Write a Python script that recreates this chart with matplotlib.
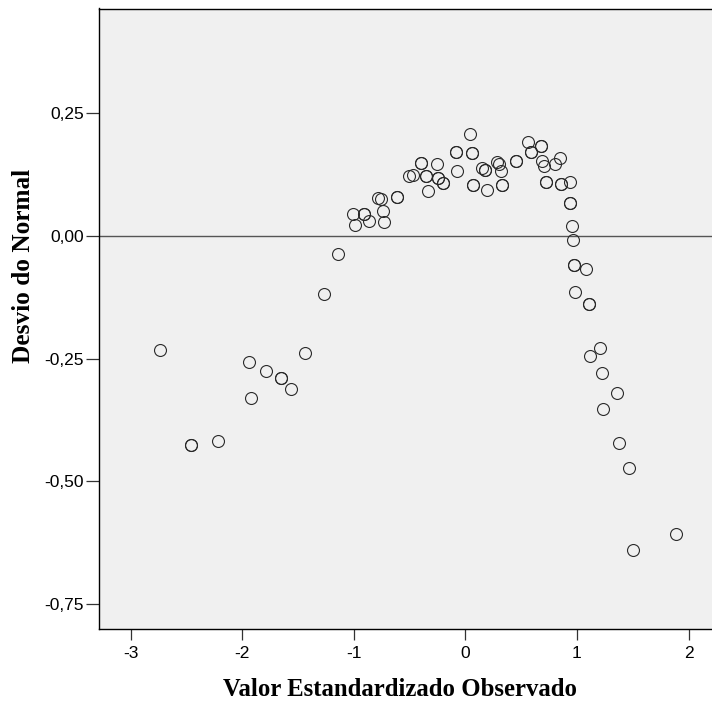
import matplotlib
matplotlib.use("Agg")
import matplotlib.pyplot as plt
from matplotlib.ticker import FixedLocator, FuncFormatter

# detrended normal Q-Q values (repeated points listed twice)
obs_left = [-2.736, -2.461, -2.461, -2.219, -1.941, -1.920, -1.786, -1.654, -1.654,
            -1.565, -1.434, -1.266, -1.138]
dev_left = [-0.233, -0.427, -0.427, -0.418, -0.257, -0.330, -0.276, -0.289, -0.289,
            -0.313, -0.239, -0.119, -0.038]

obs_mid = [-1.009, -0.991, -0.908, -0.908, -0.866, -0.785, -0.755, -0.737, -0.728,
           -0.612, -0.612, -0.507, -0.471, -0.394, -0.394, -0.349, -0.349, -0.337,
           -0.254, -0.245, -0.245, -0.197, -0.197, -0.083, -0.083, -0.072, 0.042,
           0.057, 0.057, 0.066, 0.066, 0.147, 0.177, 0.177, 0.192, 0.281, 0.305,
           0.323, 0.332, 0.332, 0.454, 0.454, 0.562, 0.589, 0.589, 0.678, 0.678,
           0.687, 0.708, 0.804, 0.849, 0.720, 0.720, 0.858, 0.858, 0.935, 0.938,
           0.938, 0.953, 0.962]
dev_mid = [0.044, 0.022, 0.045, 0.045, 0.031, 0.077, 0.075, 0.051, 0.028,
           0.078, 0.078, 0.121, 0.124, 0.148, 0.148, 0.121, 0.121, 0.091,
           0.146, 0.117, 0.117, 0.107, 0.107, 0.171, 0.171, 0.131, 0.208,
           0.169, 0.169, 0.104, 0.104, 0.138, 0.133, 0.133, 0.093, 0.151, 0.147,
           0.131, 0.104, 0.104, 0.152, 0.152, 0.191, 0.170, 0.170, 0.183, 0.183,
           0.152, 0.143, 0.146, 0.159, 0.110, 0.110, 0.105, 0.105, 0.109, 0.066,
           0.066, 0.020, -0.008]

obs_right = [0.971, 0.971, 1.079, 0.983, 1.108, 1.108, 1.204, 1.120, 1.225, 1.362,
             1.237, 1.375, 1.467, 1.891, 1.500]
dev_right = [-0.060, -0.060, -0.068, -0.115, -0.138, -0.138, -0.229, -0.245, -0.280,
             -0.321, -0.352, -0.423, -0.473, -0.608, -0.640]

x_ticks = [-3, -2, -1, 0, 1, 2]
y_ticks = [-0.75, -0.50, -0.25, 0.00, 0.25]

obs = obs_left + obs_mid + obs_right
dev = dev_left + dev_mid + dev_right

W, H = 712, 702
fig = plt.figure(figsize=(W / 100, H / 100), dpi=100)
fig.patch.set_facecolor("white")

# plot frame runs off the right edge of the picture, as in the reference
ax = fig.add_axes([99.3 / W, (H - 629) / H, (716 - 99.3) / W, (629 - 8.5) / H])
ax.set_facecolor("#f0f0f0")
ax.set_xlim(-3.281, 2.246)
ax.set_ylim(-0.801, 0.463)

ax.axhline(0, color="#555555", lw=1.0, zorder=1)
ax.plot(obs, dev, linestyle="None", marker="o", ms=8.6, mfc="none",
        mec="#2a2a2a", mew=0.8, zorder=3)

for s in ax.spines.values():
    s.set_color("black")
    s.set_linewidth(1.0)

ax.xaxis.set_major_locator(FixedLocator(x_ticks))
ax.yaxis.set_major_locator(FixedLocator(y_ticks))
ax.xaxis.set_major_formatter(FuncFormatter(lambda v, p: "%d" % v))
ax.yaxis.set_major_formatter(FuncFormatter(lambda v, p: ("%.2f" % v).replace(".", ",")))
ax.tick_params(axis="x", direction="out", length=8, width=0.9, color="#333333",
               pad=4.5, labelsize=12.5)
ax.tick_params(axis="y", direction="out", length=9.4, width=0.9, color="#333333",
               pad=1.5, labelsize=12.5)
for lab in ax.get_xticklabels() + ax.get_yticklabels():
    lab.set_fontfamily("Liberation Sans")

fig.text(400 / W, (H - 689) / H, "Valor Estandardizado Observado",
         family="Liberation Serif", weight="bold", size=17.8,
         ha="center", va="center")
fig.text(24 / W, (H - 266) / H, "Desvio do Normal",
         family="Liberation Serif", weight="bold", size=18.2,
         ha="center", va="center", rotation=90)

fig.savefig("out.png", dpi=100)
